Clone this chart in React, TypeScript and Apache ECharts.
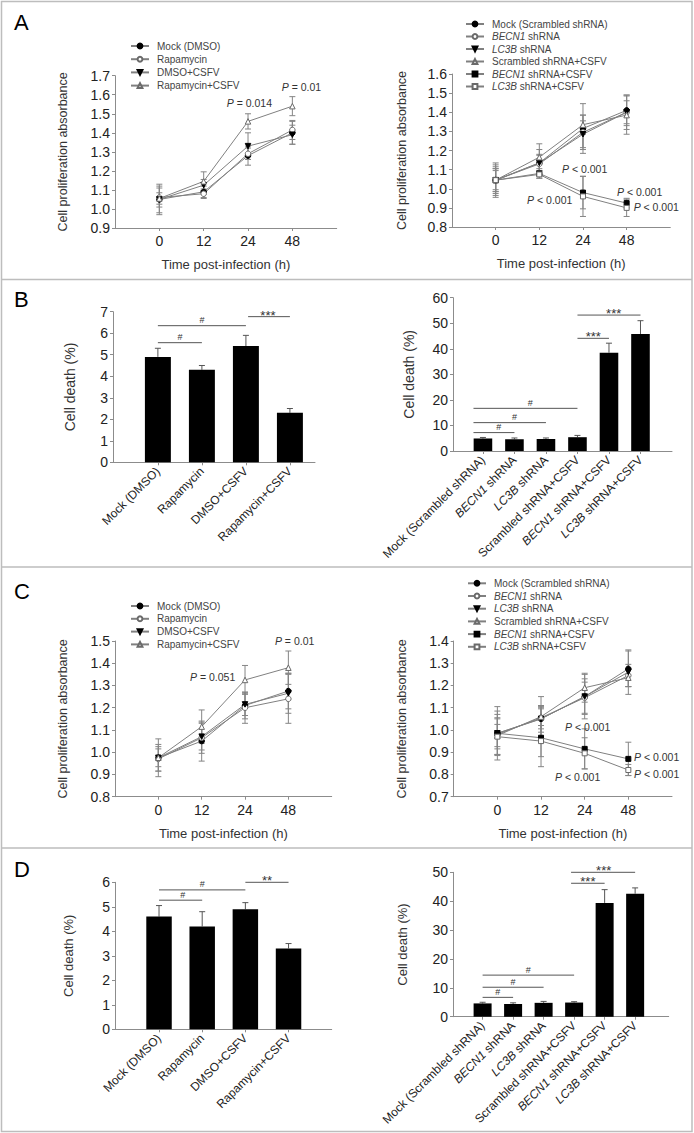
import React, { useEffect, useRef } from 'react';
import * as echarts from 'echarts';

const FONT = '"Liberation Sans", Arial, Helvetica, sans-serif';

// ---------------- categories / tick labels ----------------
const timeLabels = ['0', '12', '24', '48'];
const drugGroups = ['Mock (DMSO)', 'Rapamycin', 'DMSO+CSFV', 'Rapamycin+CSFV'];
const shrnaGroups = [
  'Mock (Scrambled shRNA)',
  'BECN1 shRNA',
  'LC3B shRNA',
  'Scrambled shRNA+CSFV',
  'BECN1 shRNA+CSFV',
  'LC3B shRNA+CSFV',
];

// ---------------- Panel A (proliferation, drugs) ----------------
const aDrugMeans = [
  [1.05, 1.09, 1.28, 1.4],
  [1.06, 1.08, 1.29, 1.415],
  [1.05, 1.125, 1.33, 1.39],
  [1.055, 1.145, 1.46, 1.54],
];
const aDrugErrors = [
  [0.07, 0.03, 0.05, 0.06],
  [0.05, 0.025, 0.03, 0.05],
  [0.08, 0.03, 0.07, 0.05],
  [0.03, 0.05, 0.04, 0.05],
];
const aDrugP = [
  { x: 1.52, y: 1.556, text: 'P = 0.014' },
  { x: 2.76, y: 1.64, text: 'P = 0.01' },
];

// ---------------- Panel A (proliferation, shRNA) ----------------
const aShrnaMeans = [
  [1.045, 1.135, 1.315, 1.41],
  [1.045, 1.13, 1.295, 1.4],
  [1.045, 1.135, 1.285, 1.4],
  [1.045, 1.165, 1.335, 1.385],
  [1.045, 1.08, 0.98, 0.925],
  [1.045, 1.075, 0.96, 0.9],
];
const aShrnaErrors = [
  [0.09, 0.07, 0.13, 0.08],
  [0.06, 0.05, 0.09, 0.09],
  [0.07, 0.04, 0.07, 0.06],
  [0.05, 0.07, 0.05, 0.1],
  [0.08, 0.025, 0.085, 0.025],
  [0.06, 0.02, 0.105, 0.045],
];
const aShrnaP = [
  { x: 1.52, y: 1.103, text: 'P < 0.001' },
  { x: 0.72, y: 0.941, text: 'P < 0.001' },
  { x: 2.78, y: 0.983, text: 'P < 0.001' },
  { x: 3.16, y: 0.905, text: 'P < 0.001' },
];

// ---------------- Panel B (cell death) ----------------
const bDrugValues = [4.9, 4.3, 5.4, 2.3];
const bDrugErrors = [0.4, 0.2, 0.5, 0.2];
const bDrugSig = [
  { from: 0, to: 1, y: 5.56, label: '#', at: 0.5 },
  { from: 0, to: 2, y: 6.35, label: '#', at: 1.0 },
  { from: 2.05, to: 3, y: 6.77, label: '***', at: 2.5 },
];
const bShrnaValues = [4.9, 4.6, 4.7, 5.4, 38.5, 45.8];
const bShrnaErrors = [0.4, 0.5, 0.4, 0.7, 3.7, 5.2];
const bShrnaSig = [
  { from: -0.3, to: 1, y: 7.2, label: '#', at: 0.5 },
  { from: -0.3, to: 2, y: 11.1, label: '#', at: 1.0 },
  { from: -0.3, to: 3, y: 16.7, label: '#', at: 1.5 },
  { from: 3, to: 4, y: 44.1, label: '***', at: 3.5 },
  { from: 3, to: 5, y: 53.2, label: '***', at: 4.15 },
];

// ---------------- Panel C (proliferation, drugs) ----------------
const cDrugMeans = [
  [0.975, 1.05, 1.21, 1.275],
  [0.97, 1.065, 1.2, 1.24],
  [0.975, 1.07, 1.215, 1.265],
  [0.975, 1.115, 1.325, 1.38],
];
const cDrugErrors = [
  [0.085, 0.09, 0.06, 0.08],
  [0.055, 0.07, 0.07, 0.11],
  [0.06, 0.06, 0.05, 0.09],
  [0.04, 0.075, 0.065, 0.075],
];
const cDrugP = [
  { x: 0.73, y: 1.34, text: 'P = 0.051' },
  { x: 2.69, y: 1.5, text: 'P = 0.01' },
];

// ---------------- Panel C (proliferation, shRNA) ----------------
const cShrnaMeans = [
  [0.985, 1.05, 1.15, 1.275],
  [0.98, 1.055, 1.145, 1.245],
  [0.985, 1.05, 1.15, 1.26],
  [0.975, 1.06, 1.19, 1.235],
  [0.985, 0.965, 0.915, 0.87],
  [0.97, 0.95, 0.895, 0.82],
];
const cShrnaErrors = [
  [0.12, 0.1, 0.1, 0.08],
  [0.09, 0.05, 0.07, 0.05],
  [0.07, 0.06, 0.08, 0.1],
  [0.05, 0.04, 0.065, 0.04],
  [0.1, 0.13, 0.09, 0.075],
  [0.08, 0.07, 0.07, 0.025],
];
const cShrnaP = [
  { x: 1.55, y: 1.015, text: 'P < 0.001' },
  { x: 3.13, y: 0.878, text: 'P < 0.001' },
  { x: 3.13, y: 0.8, text: 'P < 0.001' },
  { x: 1.32, y: 0.787, text: 'P < 0.001' },
];

// ---------------- Panel D (cell death) ----------------
const dDrugValues = [4.6, 4.2, 4.9, 3.3];
const dDrugErrors = [0.45, 0.6, 0.27, 0.2];
const dDrugSig = [
  { from: 0, to: 1, y: 5.27, label: '#', at: 0.55 },
  { from: 0, to: 2, y: 5.69, label: '#', at: 1.0 },
  { from: 2, to: 3, y: 6.0, label: '**', at: 2.5 },
];
const dShrnaValues = [4.6, 4.4, 4.8, 4.9, 39.4, 42.6];
const dShrnaErrors = [0.4, 0.4, 0.5, 0.3, 4.6, 2.0];
const dShrnaSig = [
  { from: 0, to: 1, y: 6.7, label: '#', at: 0.5 },
  { from: 0, to: 2, y: 10.2, label: '#', at: 1.0 },
  { from: 0, to: 3, y: 14.4, label: '#', at: 1.5 },
  { from: 2.9, to: 4, y: 46.2, label: '***', at: 3.45 },
  { from: 2.9, to: 5, y: 50, label: '***', at: 3.97 },
];

// ---------------- styles ----------------
type Mark = { symbol: string; filled: boolean; rotate?: number };
const markers: Mark[] = [
  { symbol: 'circle', filled: true },
  { symbol: 'circle', filled: false },
  { symbol: 'triangle', filled: true, rotate: 180 },
  { symbol: 'triangle', filled: false },
  { symbol: 'rect', filled: true },
  { symbol: 'rect', filled: false },
];
const LINE_GREY = '#808080';
const AXIS_GREY = '#8c8c8c';
const italicize = (s: string) => s.replace(/^(BECN1|LC3B)/, '{i|$1}');

const layouts: Record<string, any> = {
  aL: { grid: { left: 115, top: 75.7, width: 221.7, height: 152.3 }, x: [-1, 4], y: [0.9, 1.7, 0.1], gap: 45.5, size: 12.5 },
  aR: { grid: { left: 452, top: 74, width: 218.3, height: 153 }, x: [-1, 4], y: [0.8, 1.6, 0.1], gap: 44, size: 12.5 },
  bL: { grid: { left: 113, top: 311.7, width: 202, height: 150.6 }, x: [-1.02, 3.57], y: [0, 7, 1], gap: 36, size: 14 },
  bR: { grid: { left: 453, top: 297.7, width: 219, height: 153.3 }, x: [-0.95, 6.0], y: [0, 60, 10], gap: 37, size: 14 },
  cL: { grid: { left: 115, top: 641, width: 216.7, height: 155.7 }, x: [-1, 4], y: [0.8, 1.5, 0.1], gap: 45.5, size: 12.5 },
  cR: { grid: { left: 453.7, top: 641, width: 218.3, height: 155.7 }, x: [-1, 4], y: [0.7, 1.4, 0.1], gap: 45.5, size: 12.5 },
  dL: { grid: { left: 115, top: 882.3, width: 216.7, height: 147 }, x: [-1.02, 4.0], y: [0, 6, 1], gap: 40, size: 13 },
  dR: { grid: { left: 453, top: 872.3, width: 215.7, height: 144.4 }, x: [-0.97, 6.1], y: [0, 50, 10], gap: 44, size: 13 },
};

function buildOption() {
  const grid: any[] = [];
  const xAxis: any[] = [];
  const yAxis: any[] = [];
  const series: any[] = [];
  const legend: any[] = [];
  const axisLineStyle = { color: AXIS_GREY, width: 1 };

  function addGrid(L: any, yName: string, xName: string, xLabels: string[], rotate: number, decimals: number) {
    const gi = grid.length;
    const idx = xLabels.map((_, i) => i);
    grid.push({ ...L.grid });
    xAxis.push({
      gridIndex: gi,
      type: 'value',
      min: L.x[0],
      max: L.x[1],
      name: xName,
      nameLocation: 'middle',
      nameGap: 30,
      nameTextStyle: { fontSize: 13, color: '#333', fontFamily: FONT },
      axisLine: { show: true, onZero: false, lineStyle: axisLineStyle },
      axisTick: { show: true, length: 3, customValues: idx, lineStyle: axisLineStyle },
      axisLabel: {
        customValues: idx,
        formatter: (v: number) => {
          const s = xLabels[Math.round(v)];
          return s === undefined ? '' : italicize(s);
        },
        rotate,
        fontSize: rotate ? 12 : 14,
        color: '#222',
        margin: rotate ? 7 : 6,
        fontFamily: FONT,
        rich: { i: { fontStyle: 'italic', fontSize: 12, color: '#222', fontFamily: FONT } },
      },
      splitLine: { show: false },
    });
    yAxis.push({
      gridIndex: gi,
      type: 'value',
      min: L.y[0],
      max: L.y[1],
      interval: L.y[2],
      name: yName,
      nameLocation: 'middle',
      nameGap: L.gap,
      nameRotate: 90,
      nameTextStyle: { fontSize: L.size, color: '#333', fontFamily: FONT },
      axisLine: { show: true, onZero: false, lineStyle: axisLineStyle },
      axisTick: { show: true, length: 3, lineStyle: axisLineStyle },
      axisLabel: { formatter: (v: number) => v.toFixed(decimals), fontSize: 14, color: '#222', margin: 5, fontFamily: FONT },
      splitLine: { show: false },
    });
    return gi;
  }

  const errRender = (cap: number, color: string, both: boolean) => (params: any, api: any) => {
    const x = api.value(0);
    const lo = api.coord([x, api.value(1)]);
    const hi = api.coord([x, api.value(2)]);
    const style = { stroke: color, lineWidth: 1, fill: 'none' };
    const children: any[] = [
      { type: 'line', shape: { x1: lo[0], y1: lo[1], x2: hi[0], y2: hi[1] }, style },
      { type: 'line', shape: { x1: hi[0] - cap, y1: hi[1], x2: hi[0] + cap, y2: hi[1] }, style },
    ];
    if (both) children.push({ type: 'line', shape: { x1: lo[0] - cap, y1: lo[1], x2: lo[0] + cap, y2: lo[1] }, style });
    return { type: 'group', children };
  };

  function addPLabels(gi: number, list: any[]) {
    series.push({
      type: 'custom',
      name: 'p' + gi,
      xAxisIndex: gi,
      yAxisIndex: gi,
      silent: true,
      z: 5,
      data: list.map((p) => [p.x, p.y]),
      renderItem: (params: any, api: any) => {
        const item = list[params.dataIndex];
        const p = api.coord([item.x, item.y]);
        return {
          type: 'text',
          x: p[0],
          y: p[1],
          style: {
            text: item.text.replace(/^P/, '{i|P}'),
            fill: '#333',
            fontSize: 10.5,
            fontFamily: FONT,
            align: 'left',
            verticalAlign: 'middle',
            rich: { i: { fontStyle: 'italic', fontSize: 10.5, fontFamily: FONT, fill: '#333' } },
          },
        };
      },
    });
  }

  function addLinePanel(L: any, groups: string[], means: number[][], errs: number[][], pLabels: any[]) {
    const gi = addGrid(L, 'Cell proliferation absorbance', 'Time post-infection (h)', timeLabels, 0, 1);
    const eb: number[][] = [];
    means.forEach((m, k) => m.forEach((v, i) => eb.push([i, v - errs[k][i], v + errs[k][i]])));
    series.push({
      type: 'custom',
      name: 'err' + gi,
      xAxisIndex: gi,
      yAxisIndex: gi,
      silent: true,
      z: 1,
      data: eb,
      renderItem: errRender(3, '#858585', true),
    });
    groups.forEach((name, k) => {
      const mk = markers[k];
      series.push({
        type: 'line',
        name,
        xAxisIndex: gi,
        yAxisIndex: gi,
        data: means[k].map((v, i) => [i, v]),
        symbol: mk.symbol,
        symbolSize: mk.symbol === 'rect' ? 5 : 5.5,
        symbolRotate: mk.rotate || 0,
        showSymbol: true,
        silent: true,
        z: 3,
        lineStyle: { color: LINE_GREY, width: 1 },
        itemStyle: mk.filled
          ? { color: '#000', borderColor: '#000', borderWidth: 1 }
          : { color: '#fff', borderColor: '#6a6a6a', borderWidth: 1 },
        emphasis: { disabled: true },
      });
    });
    addPLabels(gi, pLabels);
  }

  function addBarPanel(L: any, cats: string[], values: number[], errs: number[], sig: any[]) {
    const gi = addGrid(L, 'Cell death (%)', '', cats, 45, 0);
    series.push({
      type: 'custom',
      name: 'bars' + gi,
      xAxisIndex: gi,
      yAxisIndex: gi,
      silent: true,
      z: 3,
      data: values.map((v, i) => [i, v]),
      renderItem: (params: any, api: any) => {
        const x = api.value(0);
        const top = api.coord([x, api.value(1)]);
        const base = api.coord([x, 0]);
        const w = api.size([1, 0])[0] * 0.59;
        return {
          type: 'rect',
          shape: { x: top[0] - w / 2, y: top[1], width: w, height: base[1] - top[1] },
          style: { fill: '#000' },
        };
      },
    });
    series.push({
      type: 'custom',
      name: 'barerr' + gi,
      xAxisIndex: gi,
      yAxisIndex: gi,
      silent: true,
      z: 2,
      data: values.map((v, i) => [i, v, v + errs[i]]),
      renderItem: errRender(3, '#555', false),
    });
    series.push({
      type: 'custom',
      name: 'sig' + gi,
      xAxisIndex: gi,
      yAxisIndex: gi,
      silent: true,
      z: 4,
      data: sig.map((s) => [s.from, s.y]),
      renderItem: (params: any, api: any) => {
        const s = sig[params.dataIndex];
        const a = api.coord([s.from, s.y]);
        const b = api.coord([s.to, s.y]);
        const lx = api.coord([s.at, s.y])[0];
        const star = s.label.indexOf('*') >= 0;
        return {
          type: 'group',
          children: [
            { type: 'line', shape: { x1: a[0], y1: a[1], x2: b[0], y2: b[1] }, style: { stroke: '#555', lineWidth: 1 } },
            {
              type: 'text',
              x: lx,
              y: a[1] - (star ? 1.5 : 5.5),
              style: {
                text: s.label,
                fill: '#333',
                fontSize: star ? 13 : 9,
                fontFamily: FONT,
                align: 'center',
                verticalAlign: 'middle',
              },
            },
          ],
        };
      },
    });
  }

  addLinePanel(layouts.aL, drugGroups, aDrugMeans, aDrugErrors, aDrugP);
  addLinePanel(layouts.aR, shrnaGroups, aShrnaMeans, aShrnaErrors, aShrnaP);
  addBarPanel(layouts.bL, drugGroups, bDrugValues, bDrugErrors, bDrugSig);
  addBarPanel(layouts.bR, shrnaGroups, bShrnaValues, bShrnaErrors, bShrnaSig);
  addLinePanel(layouts.cL, drugGroups, cDrugMeans, cDrugErrors, cDrugP);
  addLinePanel(layouts.cR, shrnaGroups, cShrnaMeans, cShrnaErrors, cShrnaP);
  addBarPanel(layouts.dL, drugGroups, dDrugValues, dDrugErrors, dDrugSig);
  addBarPanel(layouts.dR, shrnaGroups, dShrnaValues, dShrnaErrors, dShrnaSig);

  const legendBase = (groups: string[], left: number, top: number, gap: number) => ({
    data: groups,
    left,
    top,
    orient: 'vertical',
    itemWidth: 18,
    itemHeight: 6,
    itemGap: gap,
    padding: 0,
    selectedMode: false,
    formatter: (name: string) => italicize(name),
    textStyle: {
      fontSize: 10,
      color: '#444',
      fontFamily: FONT,
      lineHeight: 12,
      padding: [0, 0, 0, 3],
      rich: { i: { fontStyle: 'italic', fontSize: 10, color: '#444', fontFamily: FONT, lineHeight: 12 } },
    },
  });
  legend.push(legendBase(drugGroups, 130, 40, 1.2));
  legend.push(legendBase(shrnaGroups, 465, 18, 0.5));
  legend.push(legendBase(drugGroups, 130, 600, 0.8));
  legend.push(legendBase(shrnaGroups, 467, 577.3, 0.7));

  const border = { stroke: '#bdbdbd', lineWidth: 1.5 };
  const letter = (t: string, y: number) => ({
    type: 'text',
    x: 14,
    y,
    silent: true,
    style: { text: t, fill: '#000', fontSize: 22, fontFamily: FONT, align: 'left', verticalAlign: 'middle' },
  });

  const graphic = [
    { type: 'rect', silent: true, shape: { x: 1.5, y: 1.5, width: 690.5, height: 1130 }, style: { fill: 'none', ...border } },
    { type: 'line', silent: true, shape: { x1: 1.5, y1: 279.5, x2: 692, y2: 279.5 }, style: border },
    { type: 'line', silent: true, shape: { x1: 1.5, y1: 567, x2: 692, y2: 567 }, style: border },
    { type: 'line', silent: true, shape: { x1: 1.5, y1: 848, x2: 692, y2: 848 }, style: border },
    letter('A', 22.5),
    letter('B', 299),
    letter('C', 591.5),
    letter('D', 869.5),
  ];

  return {
    animation: false,
    backgroundColor: '#fff',
    textStyle: { fontFamily: FONT },
    grid,
    xAxis,
    yAxis,
    legend,
    series,
    graphic,
  };
}

export default function App() {
  const ref = useRef<HTMLDivElement>(null);
  useEffect(() => {
    if (!ref.current) return;
    const chart = echarts.init(ref.current, null, { renderer: 'svg' });
    chart.setOption(buildOption() as any);
    return () => chart.dispose();
  }, []);
  return (
    <div
      ref={ref}
      style={{ position: 'absolute', left: 0, top: 0, width: 694, height: 1133, background: '#fff' }}
    />
  );
}
